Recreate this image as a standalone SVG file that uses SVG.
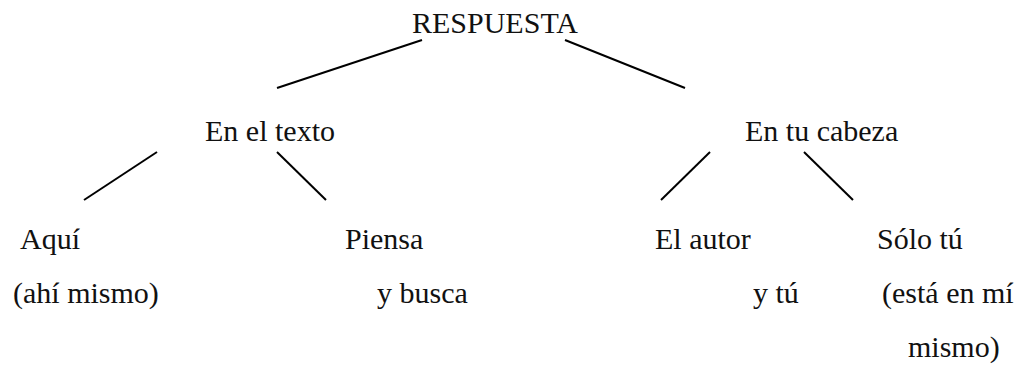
<svg xmlns="http://www.w3.org/2000/svg" width="1025" height="365" viewBox="0 0 1025 365">
<style>
text{font-family:"Liberation Serif","Times New Roman",serif;font-size:30px;fill:#111}
line{stroke:#000;stroke-width:2}
</style>
<rect width="1025" height="365" fill="#fff"/>
<g id="connectors">
<line x1="422" y1="40" x2="277" y2="88"/>
<line x1="565" y1="40" x2="685" y2="88"/>
<line x1="157" y1="152" x2="84" y2="200"/>
<line x1="277" y1="152" x2="326" y2="200"/>
<line x1="710" y1="152" x2="661" y2="200"/>
<line x1="804" y1="152" x2="853" y2="200"/>
</g>
<g id="respuesta"><text x="412" y="33">RESPUESTA</text></g>
<g id="en-el-texto"><text x="205" y="141">En el texto</text></g>
<g id="en-tu-cabeza"><text x="745" y="141">En tu cabeza</text></g>
<g id="aqui"><text x="20" y="249">Aquí</text><text x="13" y="303">(ahí mismo)</text></g>
<g id="piensa"><text x="345" y="249">Piensa</text><text x="377" y="303">y busca</text></g>
<g id="el-autor"><text x="655" y="249">El autor</text><text x="753" y="303">y tú</text></g>
<g id="solo-tu"><text x="877" y="249">Sólo tú</text><text x="882" y="303">(está en mí</text><text x="908" y="357">mismo)</text></g>
</svg>
